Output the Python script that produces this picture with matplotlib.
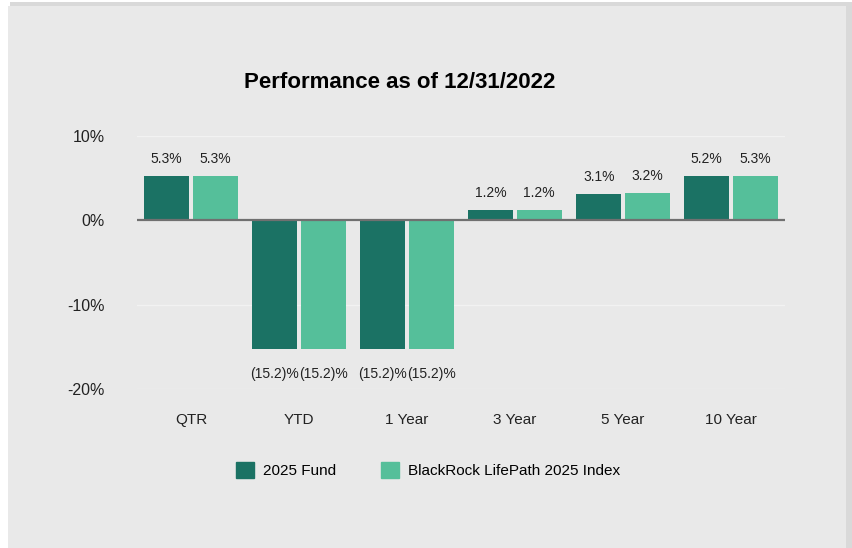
import matplotlib.pyplot as plt
import matplotlib.patches as mpatches
import numpy as np

plt.rcParams['font.family'] = ['Liberation Sans', 'DejaVu Sans']

categories = ['QTR', 'YTD', '1 Year', '3 Year', '5 Year', '10 Year']
fund = [5.3, -15.2, -15.2, 1.2, 3.1, 5.2]
index = [5.3, -15.2, -15.2, 1.2, 3.2, 5.3]
series_names = ['2025 Fund', 'BlackRock LifePath 2025 Index']
yticks = [-20, -10, 0, 10]
ytick_labels = ['-20%', '-10%', '0%', '10%']

dark = '#1b7264'
light = '#55bf9a'
bg = '#e9e9e9'

W, H = 853, 548
fig = plt.figure(figsize=(W / 100, H / 100), dpi=100)
fig.patch.set_facecolor('white')

# panel with slight shadow on top/right
fig.patches.append(mpatches.Rectangle((10 / W, 0), 843 / W, 546 / H, transform=fig.transFigure,
                                      facecolor='#d9d9d9', edgecolor='none', zorder=-2))
fig.patches.append(mpatches.Rectangle((8 / W, 0), 838 / W, 542 / H, transform=fig.transFigure,
                                      facecolor=bg, edgecolor='none', zorder=-1))

ax = fig.add_axes([137 / W, 1 - 389 / H, 648 / W, 253 / H])
ax.set_facecolor('none')
ax.set_zorder(1)

x = np.arange(len(categories))
w = 0.415
off = 0.225
b1 = ax.bar(x - off, fund, w, color=dark, zorder=3)
b2 = ax.bar(x + off, index, w, color=light, zorder=3)

def fmt(v):
    return f'{v:.1f}%' if v >= 0 else f'({abs(v):.1f})%'

for bars, vals in ((b1, fund), (b2, index)):
    for r, v in zip(bars, vals):
        cx = r.get_x() + r.get_width() / 2
        if v >= 0:
            ax.text(cx, v + 1.2, fmt(v), ha='center', va='bottom', fontsize=10, color='#222222')
        else:
            ax.text(cx, v - 2.2, fmt(v), ha='center', va='top', fontsize=10, color='#222222')

ax.set_xlim(-0.5, len(categories) - 0.5)
ax.set_ylim(-20, 10)
ax.set_yticks(yticks)
ax.set_yticklabels(ytick_labels, fontsize=11.5, color='#222222')
ax.set_xticks(x)
ax.set_xticklabels(categories, fontsize=11, color='#222222')
ax.tick_params(axis='both', length=0)
ax.tick_params(axis='y', pad=23)
ax.tick_params(axis='x', pad=17)
ax.grid(axis='y', color='#f2f2f2', linewidth=1, zorder=0)
ax.axhline(0, color='#707070', linewidth=1.6, zorder=4)
for s in ax.spines.values():
    s.set_visible(False)

fig.text(400 / W, 1 - 82 / H, 'Performance as of 12/31/2022', ha='center', va='center',
         fontsize=16, fontweight='bold', color='black')

handles = [mpatches.Patch(color=dark, label=series_names[0]),
           mpatches.Patch(color=light, label=series_names[1])]
fig.legend(handles=handles, loc='center', bbox_to_anchor=(428 / W, 1 - 470 / H), ncol=2,
           frameon=False, fontsize=11, handlelength=1.2, handleheight=1.2,
           columnspacing=2.9, handletextpad=0.6)

fig.savefig('out.png', dpi=100, facecolor=fig.get_facecolor())
